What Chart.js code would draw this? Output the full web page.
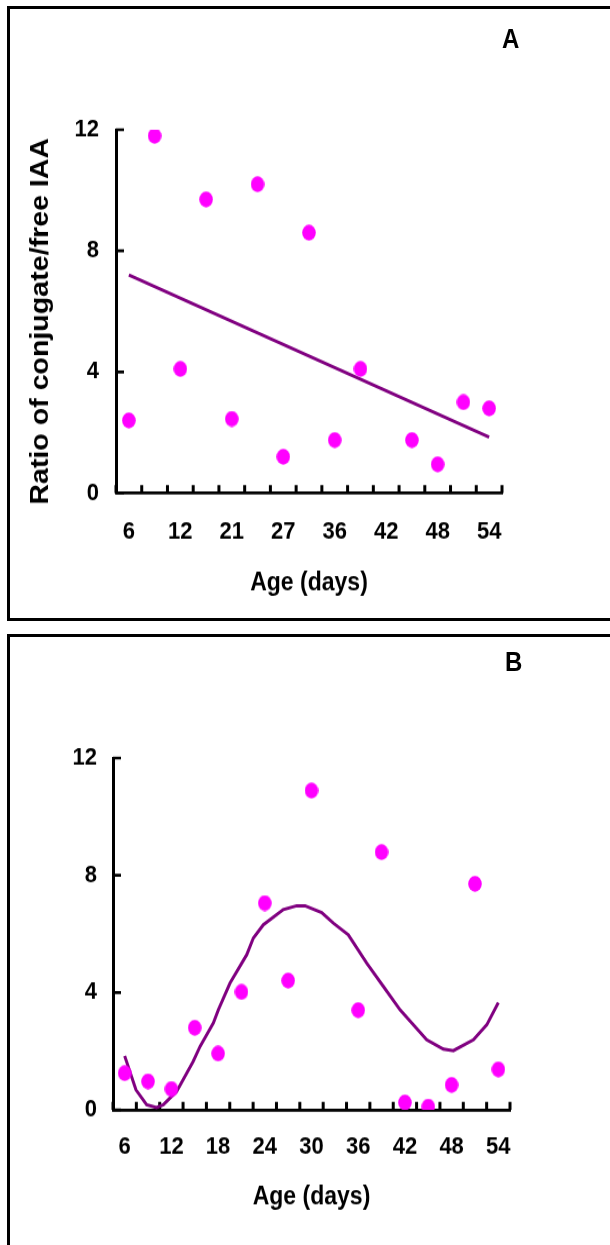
<!DOCTYPE html>
<html>
<head>
<meta charset="utf-8">
<title>Conjugate/free IAA ratio by age</title>
<script src="https://cdn.jsdelivr.net/npm/chart.js@4.4.1/dist/chart.umd.min.js"></script>
<style>
  html, body { margin: 0; padding: 0; background: #fff; }
  body { width: 610px; height: 1245px; position: relative; overflow: hidden; }
  .frame { position: absolute; left: 7px; width: 700px; border: 3px solid #000; box-sizing: border-box; }
  #frameA { top: 6px; height: 615px; }
  #frameB { top: 634px; height: 700px; }
  .tag { position: absolute; font: bold 24px "Liberation Sans", Arial, sans-serif; line-height: 24px; color: #000;
         transform: scaleY(1.12); transform-origin: 0 0; }
  #tagA { left: 502px; top: 26px; }
  #tagB { left: 505px; top: 649px; }
  canvas { position: absolute; left: 0; }
  #chartA { top: 0; }
  #chartB { top: 625px; }
</style>
</head>
<body>
<div class="frame" id="frameA"></div>
<div class="frame" id="frameB"></div>
<!-- plots are drawn a little short and stretched to full height -->
<canvas id="chartA" width="610" height="564" style="width:610px;height:620px"></canvas>
<canvas id="chartB" width="610" height="564" style="width:610px;height:620px"></canvas>
<div class="tag" id="tagA">A</div>
<div class="tag" id="tagB">B</div>
<script>
'use strict';

// panel A
var agesA = ['6', '9', '12', '18', '21', '24', '27', '33', '36', '39', '42', '45', '48', '51', '54'];
var ratioA = [2.4, 11.8, 4.1, 9.7, 2.45, 10.2, 1.2, 8.6, 1.75, 4.1, null, 1.75, 0.95, 3.0, 2.8];
// linear fit, drawn between its two end points
var fitA = [7.2, null, null, null, null, null, null, null, null, null, null, null, null, null, 1.85];

// panel B
var agesB = ['6', '9', '12', '15', '18', '21', '24', '27', '30', '33', '36', '39', '42', '45', '48', '51', '54'];
var ratioB = [1.25, 0.97, 0.71, 2.8, 1.92, 4.02, 7.05, 4.41, 10.89, null, 3.4, 8.79, 0.25, 0.11, 0.85, 7.71, 1.38];
// polynomial fit, sampled along the age axis
var fitDaysB = [6, 7.45, 8.83, 10.1, 10.96, 12.68, 14.8, 15.68, 17.39, 18.03, 19.53, 21.68, 22.53, 23.81,
  26.38, 28.1, 29.17, 31.31, 32.8, 34.73, 37.1, 39.23, 41.38, 44.8, 46.94, 48.23, 50.8, 52.52, 54];
var fitB = [1.84, 0.68, 0.17, 0.08, 0.17, 0.63, 1.65, 2.16, 2.96, 3.41, 4.32, 5.29, 5.86, 6.31,
  6.83, 6.96, 6.96, 6.73, 6.37, 5.97, 5.0, 4.21, 3.41, 2.39, 2.07, 2.02, 2.39, 2.9, 3.66];

var yMin = 0, yMax = 12, yStep = 4;

var FONT = '"Liberation Sans", Arial, sans-serif';
var tickFont = { family: FONT, size: 22, weight: 'bold' };

// oval marker
function dotImage() {
  var c = document.createElement('canvas');
  c.width = 14;
  c.height = 15;
  var g = c.getContext('2d');
  g.fillStyle = '#ff00ff';
  g.beginPath();
  g.ellipse(7, 7.5, 6.8, 7.2, 0, 0, Math.PI * 2);
  g.fill();
  return c;
}
var dot = dotImage();

// tick marks pointing into the plot
var innerTicks = {
  id: 'innerTicks',
  beforeDatasetsDraw: function(chart) {
    var ctx = chart.ctx, a = chart.chartArea;
    var x = chart.scales.x, y = chart.scales.y;
    ctx.save();
    ctx.strokeStyle = '#000';
    ctx.beginPath();
    ctx.lineWidth = 3;
    for (var k = 0; k <= x.getLabels().length; k++) {
      var px = x.getPixelForValue(k - 0.5);
      ctx.moveTo(px, a.bottom);
      ctx.lineTo(px, a.bottom - 7.3);
    }
    ctx.stroke();
    ctx.beginPath();
    ctx.lineWidth = 2.7;
    y.ticks.forEach(function(t) {
      var py = y.getPixelForValue(t.value);
      ctx.moveTo(a.left, py);
      ctx.lineTo(a.left + 8, py);
    });
    ctx.stroke();
    ctx.restore();
  }
};

// rotated y axis caption, set a bit below the middle of the axis
var yCaption = {
  id: 'yCaption',
  afterDraw: function(chart, args, opts) {
    if (!opts.text) return;
    var a = chart.chartArea, ctx = chart.ctx;
    ctx.save();
    ctx.translate(opts.x, (a.top + a.bottom) / 2 + opts.shift);
    ctx.rotate(-Math.PI / 2);
    ctx.font = 'bold 26px ' + FONT;
    ctx.textAlign = 'center';
    ctx.textBaseline = 'middle';
    ctx.fillStyle = '#000';
    ctx.fillText(opts.text, 0, 0);
    ctx.restore();
  }
};

function scales(o) {
  var s = {
    x: {
      type: 'category',
      offset: true,
      grid: { display: false, drawTicks: false, offset: true },
      border: { color: '#000', width: 2.7 },
      ticks: {
        autoSkip: false, maxRotation: 0, minRotation: 0,
        color: '#000', font: tickFont, padding: o.xPad,
        callback: function(v, i) { return i % 2 === 0 ? this.getLabelForValue(v) : ''; }
      },
      title: {
        display: true, text: 'Age (days)', color: '#000',
        font: { family: FONT, size: 23, weight: 'bold' },
        padding: { top: 0, bottom: o.xTitlePad }
      },
      afterFit: function(sc) { sc.height = o.xHeight; }
    },
    y: {
      min: yMin, max: yMax,
      grid: { display: false, drawTicks: false },
      border: { color: '#000', width: 3 },
      ticks: { stepSize: yStep, color: '#000', font: tickFont, padding: o.yPad },
      afterFit: function(sc) { sc.width = o.yWidth; }
    }
  };
  if (o.curveAxis) {
    s.xc = { type: 'linear', display: false, min: 4.5, max: 55.5 };
  }
  return s;
}

function baseOptions(extra) {
  return Object.assign({
    responsive: false,
    animation: false,
    events: []
  }, extra);
}

new Chart(document.getElementById('chartA').getContext('2d'), {
  type: 'line',
  data: {
    labels: agesA,
    datasets: [{
      label: 'Ratio',
      data: ratioA,
      showLine: false,
      pointStyle: dot,
      order: 0
    }, {
      label: 'Linear fit',
      data: fitA,
      spanGaps: true,
      borderColor: '#800080',
      borderWidth: 3,
      pointRadius: 0,
      fill: false,
      order: 1
    }]
  },
  options: baseOptions({
    layout: { padding: { top: 118, right: 108, bottom: 0, left: 0 } },
    plugins: {
      legend: { display: false },
      tooltip: { enabled: false },
      yCaption: { text: 'Ratio of conjugate/free IAA', x: 41, shift: 9 }
    },
    scales: scales({ xPad: 22, xTitlePad: 20, xHeight: 115.5, yPad: 17, yWidth: 116 })
  }),
  plugins: [innerTicks, yCaption]
});

var curveB = fitDaysB.map(function(d, i) { return { x: d, y: fitB[i] }; });

new Chart(document.getElementById('chartB').getContext('2d'), {
  type: 'line',
  data: {
    labels: agesB,
    datasets: [{
      label: 'Ratio',
      data: ratioB,
      showLine: false,
      pointStyle: dot,
      order: 0
    }, {
      label: 'Polynomial fit',
      data: curveB,
      xAxisID: 'xc',
      borderColor: '#800080',
      borderWidth: 3,
      tension: 0,
      pointRadius: 0,
      fill: false,
      order: 1
    }]
  },
  options: baseOptions({
    layout: { padding: { top: 121, right: 100, bottom: 0, left: 0 } },
    plugins: {
      legend: { display: false },
      tooltip: { enabled: false }
    },
    scales: scales({ xPad: 21, xTitlePad: 30, xHeight: 123, yPad: 16, yWidth: 113, curveAxis: true })
  }),
  plugins: [innerTicks]
});
</script>
</body>
</html>
